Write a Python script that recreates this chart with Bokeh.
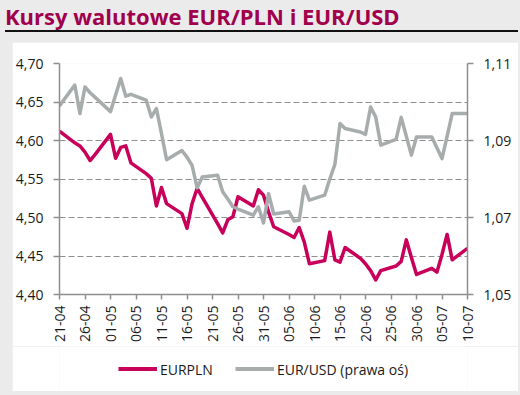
import math
import pandas as pd
from bokeh.plotting import figure
from bokeh.models import (Range1d, LinearAxis, FixedTicker, CustomJSTickFormatter,
                          DatetimeTickFormatter, Legend, LegendItem, Div, ColumnDataSource)
from bokeh.layouts import column
from bokeh.embed import file_html
from bokeh.resources import INLINE

# Daily fixings (business days)
dates = [
    "2023-04-21", "2023-04-24", "2023-04-25", "2023-04-26", "2023-04-27", "2023-04-28",
    "2023-05-01", "2023-05-02", "2023-05-03", "2023-05-04", "2023-05-05",
    "2023-05-08", "2023-05-09", "2023-05-10", "2023-05-11", "2023-05-12",
    "2023-05-15", "2023-05-16", "2023-05-17", "2023-05-18", "2023-05-19",
    "2023-05-22", "2023-05-23", "2023-05-24", "2023-05-25", "2023-05-26",
    "2023-05-29", "2023-05-30", "2023-05-31", "2023-06-01", "2023-06-02",
    "2023-06-05", "2023-06-06", "2023-06-07", "2023-06-08", "2023-06-09",
    "2023-06-12", "2023-06-13", "2023-06-14", "2023-06-15", "2023-06-16",
    "2023-06-19", "2023-06-20", "2023-06-21", "2023-06-22", "2023-06-23",
    "2023-06-26", "2023-06-27", "2023-06-28", "2023-06-29", "2023-06-30",
    "2023-07-03", "2023-07-04", "2023-07-05", "2023-07-06", "2023-07-07",
    "2023-07-10",
]

eurpln = [
    4.612, 4.597, 4.593, 4.585, 4.574, 4.582,
    4.608, 4.577, 4.591, 4.593, 4.571,
    4.557, 4.551, 4.515, 4.539, 4.518,
    4.505, 4.486, 4.518, 4.538, 4.526,
    4.492, 4.480, 4.497, 4.501, 4.527,
    4.515, 4.536, 4.529, 4.507, 4.488,
    4.478, 4.474, 4.487, 4.468, 4.440,
    4.444, 4.481, 4.445, 4.442, 4.461,
    4.447, 4.440, 4.431, 4.419, 4.431,
    4.437, 4.443, 4.471, 4.448, 4.426,
    4.434, 4.429, 4.452, 4.478, 4.445,
    4.460,
]

eurusd = [
    1.0990, 1.1044, 1.0970, 1.1039, 1.1024, 1.1012,
    1.0975, 1.1018, 1.1061, 1.1015, 1.1020,
    1.1005, 1.0961, 1.0983, 1.0918, 1.0850,
    1.0874, 1.0857, 1.0835, 1.0777, 1.0805,
    1.0810, 1.0767, 1.0748, 1.0728, 1.0722,
    1.0706, 1.0728, 1.0686, 1.0762, 1.0709,
    1.0715, 1.0691, 1.0693, 1.0781, 1.0745,
    1.0758, 1.0800, 1.0838, 1.0944, 1.0931,
    1.0922, 1.0916, 1.0987, 1.0961, 1.0888,
    1.0903, 1.0960, 1.0911, 1.0862, 1.0909,
    1.0909, 1.0881, 1.0853, 1.0911, 1.0970,
    1.0970,
]

# Axis ticks
x_tick_dates = [
    "2023-04-21", "2023-04-26", "2023-05-01", "2023-05-06", "2023-05-11",
    "2023-05-16", "2023-05-21", "2023-05-26", "2023-05-31", "2023-06-05",
    "2023-06-10", "2023-06-15", "2023-06-20", "2023-06-25", "2023-06-30",
    "2023-07-05", "2023-07-10",
]
pln_ticks = [4.40, 4.45, 4.50, 4.55, 4.60, 4.65, 4.70]
usd_ticks = [1.05, 1.07, 1.09, 1.11]

series_labels = ["EURPLN", "EUR/USD (prawa oś)"]

PLN_COLOR = "#c8005a"
USD_COLOR = "#a7acac"
AXIS_COLOR = "#8e8e8e"
FONT = "Open Sans"

src = ColumnDataSource(dict(date=pd.to_datetime(dates), eurpln=eurpln, eurusd=eurusd))

x_start = pd.Timestamp(x_tick_dates[0])
x_end = pd.Timestamp(x_tick_dates[-1])

p = figure(
    frame_width=408, frame_height=231,
    x_axis_type="datetime",
    x_range=Range1d(x_start, x_end),
    y_range=Range1d(pln_ticks[0], pln_ticks[-1]),
    output_backend="svg", toolbar_location=None,
    min_border_left=47, min_border_right=51, min_border_top=21, min_border_bottom=52,
    background_fill_color="white", border_fill_color="white",
    outline_line_color=None,
    margin=(7, 2, 0, 12),
)
p.extra_y_ranges = {"usd": Range1d(usd_ticks[0], usd_ticks[-1])}

comma_fmt = CustomJSTickFormatter(code="return tick.toFixed(2).replace('.', ',');")

# x axis
xa = p.xaxis[0]
xa.ticker = FixedTicker(ticks=[pd.Timestamp(d).value / 1e6 for d in x_tick_dates])
xa.formatter = DatetimeTickFormatter(days="%d-%m", months="%d-%m", hours="%d-%m")
xa.major_label_orientation = math.pi / 2

# left axis
ya = p.yaxis[0]
ya.ticker = FixedTicker(ticks=pln_ticks)
ya.formatter = comma_fmt

# right axis
ra = LinearAxis(y_range_name="usd", ticker=FixedTicker(ticks=usd_ticks), formatter=comma_fmt)
p.add_layout(ra, "right")

for ax in (xa, ya, ra):
    ax.axis_line_color = AXIS_COLOR
    ax.axis_line_width = 1.5
    ax.major_tick_line_color = AXIS_COLOR
    ax.major_tick_line_width = 1.5
    ax.major_tick_in = 0
    ax.minor_tick_line_color = None
    ax.major_label_text_font = FONT
    ax.major_label_text_font_size = "14px"
    ax.major_label_text_color = "#1a1a1a"
xa.major_tick_out = 5
xa.major_label_standoff = 6
ya.major_tick_out = 6
ya.major_label_standoff = 10
ra.major_tick_out = 6
ra.major_label_standoff = 10

p.xgrid.visible = False
p.ygrid.ticker = FixedTicker(ticks=pln_ticks)
p.ygrid.grid_line_color = AXIS_COLOR
p.ygrid.grid_line_dash = "6 3"
p.ygrid.grid_line_width = 1.2

p.line("date", "eurpln", source=src, line_color=PLN_COLOR, line_width=3.5,
       line_join="round")
p.line("date", "eurusd", source=src, line_color=USD_COLOR, line_width=3.5,
       line_join="round", y_range_name="usd")

# Legend strip underneath the chart. Its key renderers reuse the series source,
# which lies far outside this strip's (0, 1) ranges, so only the swatches show.
lg = figure(
    width=506, height=45, x_range=(0, 1), y_range=(0, 1),
    x_axis_location=None, y_axis_location=None,
    output_backend="svg", toolbar_location=None,
    min_border=0, outline_line_color=None,
    background_fill_color="white", border_fill_color="white",
    margin=(0, 2, 4, 12),
)
lg.grid.visible = False
key_pln = lg.line("date", "eurpln", source=src, line_color=PLN_COLOR, line_width=4)
key_usd = lg.line("date", "eurusd", source=src, line_color=USD_COLOR, line_width=4)
legend = Legend(
    items=[LegendItem(label=series_labels[0], renderers=[key_pln]),
           LegendItem(label=series_labels[1], renderers=[key_usd])],
    orientation="horizontal", location="center",
    glyph_width=39, glyph_height=16, label_standoff=3, spacing=22,
    label_text_font=FONT, label_text_font_size="14px", label_text_color="#1a1a1a",
    border_line_color=None, background_fill_alpha=0, padding=0, margin=0,
)
lg.add_layout(legend, "center")

title = Div(
    text=('<div style="font-family:\'Open Sans\';font-weight:bold;font-size:22px;'
          'color:#a0004c;line-height:32px;height:32px;width:513px;'
          'border-bottom:2px solid #111;">'
          'Kursy walutowe EUR/PLN i EUR/USD</div>'),
    width=513, height=35, margin=(0, 2, 0, 5),
)

page = column(title, p, lg, styles={"background-color": "#ebebeb"}, spacing=0)

open("out.html", "w").write(file_html(page, INLINE))
